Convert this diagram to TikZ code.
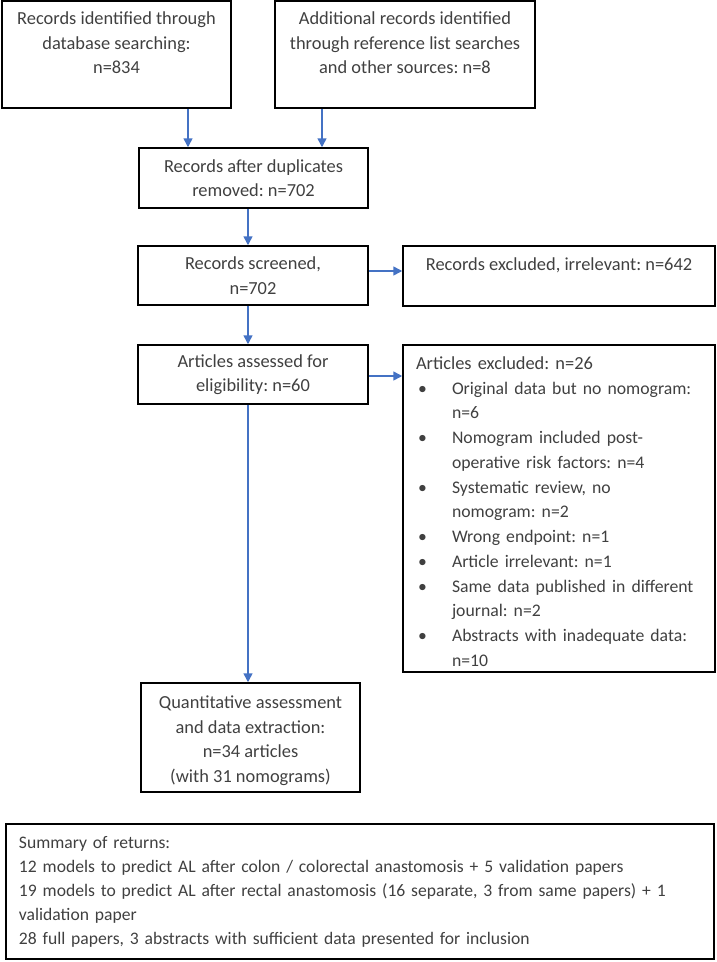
\documentclass[tikz,border=0pt]{standalone}
\usepackage{fontspec}
\setmainfont{Carlito}
\frenchspacing
\usetikzlibrary{arrows.meta}
\definecolor{txt}{HTML}{404040}
\definecolor{arrblue}{HTML}{4472C4}
\tikzset{
  box/.style={draw=black, line width=1.5pt, rectangle, inner sep=0pt, text=txt,
    font=\fontsize{18.4}{24.5}\selectfont, align=center},
  arr/.style={draw=arrblue, line width=1.5pt, -{Triangle[length=9pt,width=9pt]}},
}
\newcommand{\topgap}[1]{\rule{0pt}{#1}}
\newenvironment{exlist}{\fontsize{17.7}{24.75}\selectfont\begin{list}{\textbullet}{\setlength{\leftmargin}{36pt}\setlength{\labelwidth}{36pt}\setlength{\labelsep}{0pt}\setlength{\itemsep}{0pt}\setlength{\parsep}{0pt}\setlength{\topsep}{0pt}\setlength{\partopsep}{0pt}\renewcommand{\makelabel}[1]{\hspace{2pt}##1\hfil}}}{\end{list}}
\begin{document}
\begin{tikzpicture}[x=1pt,y=-1pt]
\useasboundingbox (0,0) rectangle (716,962);
\node[box, minimum width=229pt, minimum height=107pt] (b1) at (116.5,54.5)
  {\topgap{21pt}Records identified through\\database searching:\\n=834\\\strut};
\node[box, minimum width=260pt, minimum height=107pt] (b2) at (405,54.5)
  {\topgap{21pt}Additional records identified\\through reference list searches\\and other sources: n=8\\\strut};
\node[box, minimum width=229pt, minimum height=60pt] (b3) at (253.5,178)
  {Records after duplicates\\removed: n=702};
\node[box, minimum width=230pt, minimum height=59pt] (b4) at (253,275.5)
  {Records screened,\\n=702};
\node[box, minimum width=230pt, minimum height=59pt] (b5) at (253,374.5)
  {Articles assessed for\\eligibility: n=60};
\node[box, minimum width=312pt, minimum height=60pt] (e1) at (559,276)
  {\topgap{21pt}Records excluded, irrelevant: n=642\\\strut};
\node[box, minimum width=312pt, minimum height=327pt, align=left, text width=286pt,
  font=\fontsize{18.4}{24.75}\selectfont] (e2) at (559,508.5)
  {\topgap{19pt}Articles excluded: n=26
  \begin{exlist}
  \item Original data but no nomogram:\newline n=6
  \item Nomogram included post-\newline operative risk factors: n=4
  \item Systematic review, no\newline nomogram: n=2
  \item Wrong endpoint: n=1
  \item Article irrelevant: n=1
  \item Same data published in different\newline journal: n=2
  \item Abstracts with inadequate data:\newline n=10
  \end{exlist}};
\node[box, minimum width=219pt, minimum height=109pt] (b6) at (250.5,737.5)
  {\topgap{19pt}Quantitative assessment\\and data extraction:\\n=34 articles\\(with 31 nomograms)};
\node[box, minimum width=708pt, minimum height=135pt, align=left, text width=682pt,
  font=\fontsize{17.6}{24}\selectfont] (s) at (360,891.5)
  {Summary of returns:\\
  12 models to predict AL after colon / colorectal anastomosis + 5 validation papers\\
  19 models to predict AL after rectal anastomosis (16 separate, 3 from same papers) + 1\\
  validation paper\\
  28 full papers, 3 abstracts with sufficient data presented for inclusion};
\coordinate (xa) at (188,0);
\coordinate (xb) at (322,0);
\coordinate (xc) at (248,0);
\coordinate (ya) at (0,271);
\coordinate (yb) at (0,376);
\draw[arr] (b1.south -| xa) -- (b3.north -| xa);
\draw[arr] (b2.south -| xb) -- (b3.north -| xb);
\draw[arr] (b3.south -| xc) -- (b4.north -| xc);
\draw[arr] (b4.south -| xc) -- (b5.north -| xc);
\draw[arr] (b5.south -| xc) -- (b6.north -| xc);
\draw[arr] (b4.east |- ya) -- (e1.west |- ya);
\draw[arr] (b5.east |- yb) -- (e2.west |- yb);
\end{tikzpicture}
\end{document}
